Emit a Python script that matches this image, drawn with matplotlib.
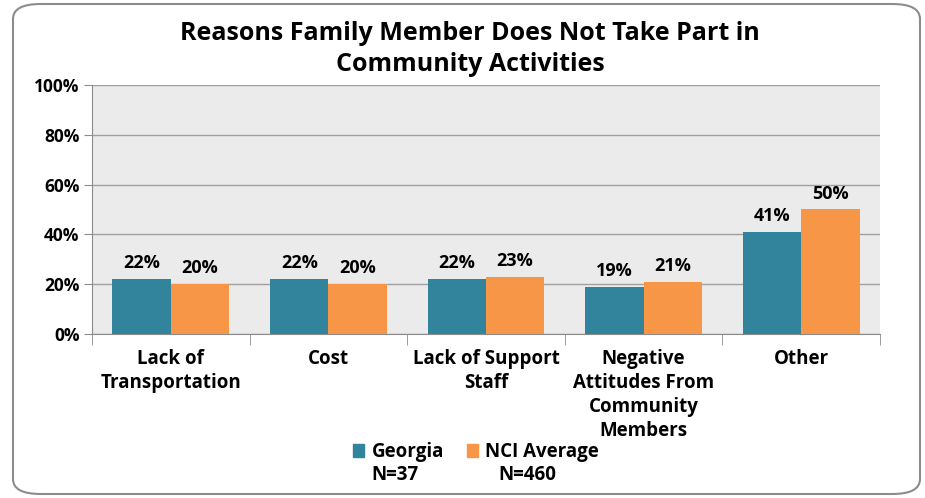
import matplotlib
matplotlib.use("Agg")
import matplotlib.pyplot as plt
import numpy as np
from matplotlib.patches import FancyBboxPatch, Rectangle

categories = ["Lack of\nTransportation", "Cost", "Lack of Support\nStaff",
              "Negative\nAttitudes From\nCommunity\nMembers", "Other"]
georgia = [22, 22, 22, 19, 41]
nci = [20, 20, 23, 21, 50]
series_names = ["Georgia", "NCI Average"]
series_n = ["N=37", "N=460"]
yticks = [0, 20, 40, 60, 80, 100]
title = "Reasons Family Member Does Not Take Part in\nCommunity Activities"

teal = "#31849b"
orange = "#f79646"

plt.rcParams['font.family'] = ['Open Sans', 'DejaVu Sans']
plt.rcParams['font.weight'] = 'bold'

fig = plt.figure(figsize=(9.25, 4.98), dpi=100)
fig.patch.set_facecolor("white")
border = FancyBboxPatch((13/925, 4/498), (920-13)/925, (494-4)/498,
                        boxstyle="round,pad=0,rounding_size=0.03",
                        transform=fig.transFigure, facecolor="white",
                        edgecolor="#8c8c8c", linewidth=1.5, zorder=-5)
fig.patches.append(border)

ax = fig.add_axes([92/925, (498-334)/498, (880-92)/925, (334-85)/498], zorder=2)
ax.set_facecolor("#ebebeb")
x = np.arange(len(categories))
w = 0.37
b1 = ax.bar(x - w/2, georgia, w, color=teal, zorder=3)
b2 = ax.bar(x + w/2, nci, w, color=orange, zorder=3)
for bars, vals in ((b1, georgia), (b2, nci)):
    for r, v in zip(bars, vals):
        ax.annotate(f"{v}%", (r.get_x() + r.get_width()/2, r.get_height()),
                    xytext=(0, 5), textcoords="offset points",
                    ha="center", va="bottom", fontsize=13, fontweight="bold")

ax.set_ylim(0, 100)
ax.set_xlim(-0.5, len(categories) - 0.5)
ax.set_yticks(yticks)
ax.set_yticklabels([f"{t}%" for t in yticks], fontsize=12.5, fontweight="bold")
ax.yaxis.grid(True, color="#a0a0a0", linewidth=1, zorder=0)
ax.set_axisbelow(True)
ax.set_xticks(x)
ax.set_xticklabels(categories, fontsize=13.5, fontweight="bold", linespacing=1.25)
ax.tick_params(axis="x", length=0, pad=11)
ax.set_xticks(np.arange(len(categories) + 1) - 0.5, minor=True)
ax.tick_params(axis="x", which="minor", length=8, color="#8c8c8c")
ax.tick_params(axis="y", length=6, color="#8c8c8c", pad=3)
for s in ["top", "right"]:
    ax.spines[s].set_visible(False)
for s in ["left", "bottom"]:
    ax.spines[s].set_color("#8c8c8c")

fig.text(470/925, 1 - 49/498, title, ha="center", va="center",
         fontsize=18, fontweight="bold", linespacing=1.35)

# legend
leg = fig.legend([Rectangle((0, 0), 1, 1, color=teal), Rectangle((0, 0), 1, 1, color=orange)],
                 series_names, ncol=2, loc="center", bbox_to_anchor=(476/925, 1 - 452/498),
                 frameon=False, prop={"size": 13.5, "weight": "bold"},
                 handlelength=0.6, handleheight=0.7, handletextpad=0.4, columnspacing=1.2)
fig.text(395/925, 1 - 475/498, series_n[0], ha="center", va="center", fontsize=13.5, fontweight="bold")
fig.text(527/925, 1 - 475/498, series_n[1], ha="center", va="center", fontsize=13.5, fontweight="bold")

fig.savefig("out.png", dpi=100)
